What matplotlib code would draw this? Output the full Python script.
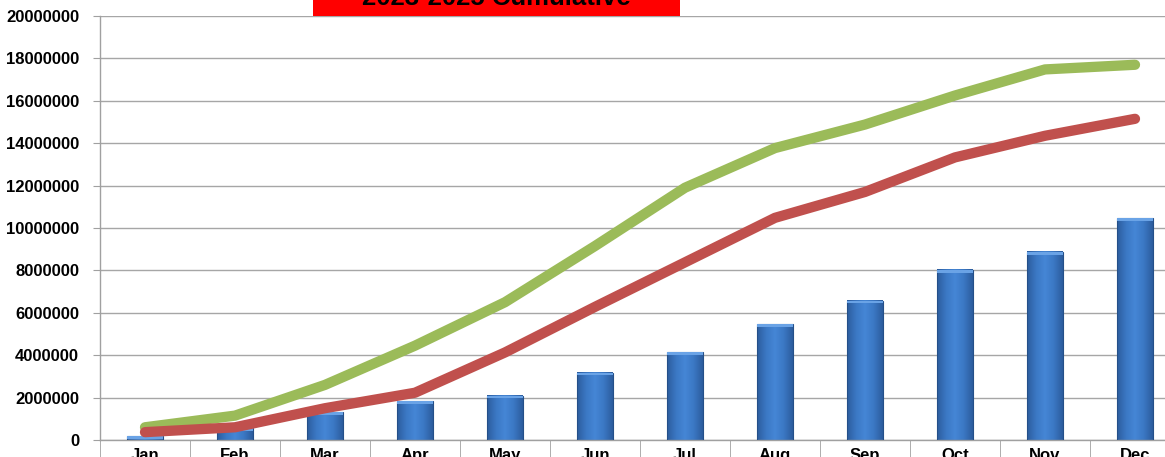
import matplotlib
matplotlib.use("Agg")
import matplotlib.pyplot as plt
import numpy as np
from matplotlib.patches import Rectangle
from matplotlib.colors import LinearSegmentedColormap

months = ["Jan", "Feb", "Mar", "Apr", "May", "Jun",
          "Jul", "Aug", "Sep", "Oct", "Nov", "Dec"]
bars = [180000, 550000, 1320000, 1820000, 2090000, 3170000,
        4150000, 5470000, 6560000, 8020000, 8870000, 10470000]
green_line = [600000, 1150000, 2600000, 4450000, 6500000, 9150000,
              11900000, 13770000, 14880000, 16250000, 17480000, 17700000]
red_line = [370000, 600000, 1500000, 2230000, 4130000, 6280000,
            8380000, 10480000, 11700000, 13330000, 14350000, 15150000]
y_ticks = list(range(0, 20000001, 2000000))
title = "2023-2025 Cumulative"

W, H = 1165, 457
fig = plt.figure(figsize=(W / 100, H / 100), dpi=100)
plt.rcParams['font.family'] = ['Liberation Sans', 'DejaVu Sans']

# plot area runs a little past the right edge of the picture
ax = fig.add_axes([100 / W, 17 / H, 1080 / W, 424 / H])
x = np.arange(len(months))

ax.set_xlim(-0.5, len(months) - 0.5)
ax.set_ylim(0, 20000000)
ax.set_yticks(y_ticks)
ax.set_yticklabels([str(v) for v in y_ticks], fontsize=12, fontweight='bold')
ax.yaxis.grid(True, color='#a6a6a6', linewidth=1.0)
ax.set_axisbelow(True)

for s in ['top', 'right']:
    ax.spines[s].set_visible(False)
for s in ['left', 'bottom']:
    ax.spines[s].set_color('#a0a0a0')
    ax.spines[s].set_linewidth(1.0)
ax.tick_params(axis='y', length=5, color='#a0a0a0', pad=10)

# category labels centered, separator ticks between categories
# (the labels are cut at the bottom edge, as in the reference)
ax.set_xticks(x)
ax.set_xticklabels(months, fontsize=12, fontweight='bold')
ax.tick_params(axis='x', which='major', length=0, pad=6)
ax.set_xticks(np.arange(-0.5, len(months), 1.0), minor=True)
ax.tick_params(axis='x', which='minor', length=30, color='#a0a0a0')

# bars with a simple shading gradient
bar_w = 0.4
cmap = LinearSegmentedColormap.from_list(
    'bar', ['#2c5d9e', '#3b78c4', '#4586d6', '#3b78c4', '#2c5d9e'])
grad = np.linspace(0, 1, 64).reshape(1, -1)
for xi, v in zip(x, bars):
    ax.imshow(grad, cmap=cmap, aspect='auto', zorder=2,
              extent=(xi - bar_w / 2, xi + bar_w / 2, 0, v))
    ax.add_patch(Rectangle((xi - bar_w / 2, 0), bar_w, v, facecolor='none',
                           edgecolor='#244f88', linewidth=0.8, zorder=3))
    ax.add_patch(Rectangle((xi - bar_w / 2, v - 120000), bar_w, 120000,
                           facecolor='#6aa3e6', edgecolor='none', zorder=3))
ax.set_xlim(-0.5, len(months) - 0.5)
ax.set_ylim(0, 20000000)

ax.plot(x, green_line, color='#9bbb59', linewidth=7.4,
        solid_capstyle='round', solid_joinstyle='round', zorder=4)
ax.plot(x, red_line, color='#c0504d', linewidth=7.4,
        solid_capstyle='round', solid_joinstyle='round', zorder=4)

# red title box, cropped at the top of the picture
fig.patches.append(Rectangle((313 / W, (H - 15.5) / H), 367 / W, 15.5 / H,
                             transform=fig.transFigure, facecolor='#ff0000',
                             edgecolor='none', zorder=5))
fig.text(496 / W, (H - 5) / H, title, ha='center', va='baseline',
         fontsize=18.5, fontweight='bold', color='black', zorder=6)

fig.savefig("out.png", dpi=100)
